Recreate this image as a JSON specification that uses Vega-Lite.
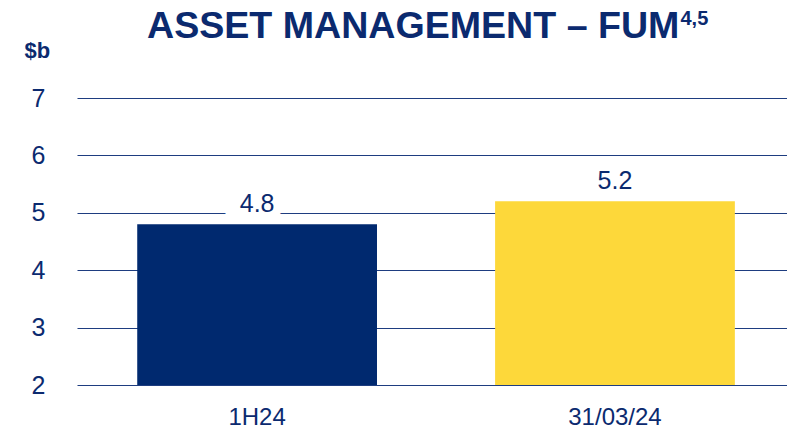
{
  "$schema": "https://vega.github.io/schema/vega-lite/v6.json",
  "width": 710,
  "height": 287,
  "autosize": {"type": "none"},
  "padding": {"left": 77, "top": 98, "right": 0, "bottom": 45},
  "background": "white",
  "config": {
    "view": {"stroke": null},
    "font": "Liberation Sans"
  },
  "title": {
    "text": "ASSET MANAGEMENT – FUM",
    "anchor": "start",
    "frame": "group",
    "dx": 70,
    "font": "Liberation Sans",
    "fontSize": 37.6,
    "fontWeight": "bold",
    "color": "#0B2A6F",
    "baseline": "alphabetic",
    "offset": -68
  },
  "data": {
    "values": [
      {"period": "1H24", "fum": 4.8, "label": "4.8"},
      {"period": "31/03/24", "fum": 5.2, "label": "5.2"}
    ]
  },
  "encoding": {
    "x": {
      "field": "period",
      "type": "nominal",
      "sort": null,
      "scale": {"paddingInner": 0.33, "paddingOuter": 0.157, "align": 0.536},
      "axis": {
        "title": "4,5",
        "titleX": 603,
        "titleY": -361,
        "titleAlign": "left",
        "titleBaseline": "alphabetic",
        "titleFont": "Liberation Sans",
        "titleFontSize": 20,
        "titleFontWeight": "bold",
        "titleColor": "#0B2A6F",
        "labelAngle": 0,
        "domain": false,
        "ticks": false,
        "labelPadding": 20,
        "labelFont": "Liberation Sans",
        "labelFontSize": 24,
        "labelColor": "#0B2A6F"
      }
    },
    "y": {
      "field": "fum",
      "type": "quantitative",
      "scale": {"domain": [2, 7], "nice": false, "zero": false},
      "axis": {
        "title": "$b",
        "titleAngle": 0,
        "titleX": -53,
        "titleY": -41,
        "titleAlign": "left",
        "titleBaseline": "alphabetic",
        "titleFont": "Liberation Sans",
        "titleFontSize": 22,
        "titleFontWeight": "bold",
        "titleColor": "#0B2A6F",
        "values": [2, 3, 4, 5, 6, 7],
        "domain": false,
        "ticks": false,
        "grid": true,
        "gridColor": "#1E3D80",
        "gridWidth": 1.2,
        "gridOpacity": 1,
        "labelPadding": 32,
        "labelFont": "Liberation Sans",
        "labelFontSize": 25,
        "labelColor": "#0B2A6F"
      }
    }
  },
  "layer": [
    {
      "mark": {"type": "bar", "width": {"band": 1}},
      "encoding": {
        "y2": {"datum": 2},
        "color": {
          "field": "period",
          "type": "nominal",
          "scale": {"domain": ["1H24", "31/03/24"], "range": ["#00296F", "#FDD83A"]},
          "legend": null
        }
      }
    },
    {
      "mark": {"type": "text", "baseline": "alphabetic", "dy": -12, "fontSize": 25, "font": "Liberation Sans", "fill": "white", "stroke": "white", "strokeWidth": 17},
      "encoding": {"text": {"field": "label"}}
    },
    {
      "mark": {"type": "text", "baseline": "alphabetic", "dy": -12, "fontSize": 25, "font": "Liberation Sans", "fill": "#0B2A6F"},
      "encoding": {"text": {"field": "label"}}
    }
  ]
}
